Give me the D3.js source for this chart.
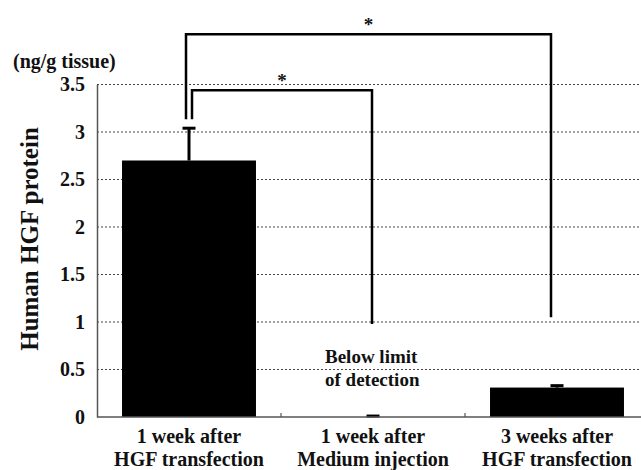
<!DOCTYPE html>
<html>
<head>
<meta charset="utf-8">
<script src="https://cdn.jsdelivr.net/npm/d3@7"></script>
<style>
  html, body { margin: 0; padding: 0; background: #fff; }
  svg text { font-family: "Liberation Serif", "Times New Roman", serif; font-weight: bold; fill: #111; }
</style>
</head>
<body>
<svg id="chart" width="641" height="470"></svg>
<script>
// ---- data ----
const categories = ["1 week after|HGF transfection", "1 week after|Medium injection", "3 weeks after|HGF transfection"];
const values = [2.70, 0.0, 0.31];
const errors = [0.34, 0.01, 0.02];
const yTicks = [0, 0.5, 1, 1.5, 2, 2.5, 3, 3.5];
const yTickLabels = ["0", "0.5", "1", "1.5", "2", "2.5", "3", "3.5"];
const unitLabel = "(ng/g tissue)";
const yTitle = "Human HGF protein";
const noteLines = ["Below limit", "of detection"];
// significance brackets
const brackets = [
  { from: 0, to: 1, top: 3.44, rightEnd: 0.98, label: "*" },
  { from: 0, to: 2, top: 4.03, rightEnd: 1.05, label: "*" }
];

const svg = d3.select("#chart");
const left = 97, right = 649, y0px = 417, yTop = 84.5;

const x = d3.scaleBand().domain(categories).range([left, right]).paddingInner(0.272).paddingOuter(0.136);
const y = d3.scaleLinear().domain([0, 3.5]).range([y0px, yTop]);

// gridlines
svg.append("g").selectAll("line").data(yTicks.filter(d => d > 0)).join("line")
  .attr("x1", left).attr("x2", 641)
  .attr("y1", d => y(d)).attr("y2", d => y(d))
  .attr("stroke", "#444").attr("stroke-width", 1).attr("stroke-dasharray", "2,2");

// y axis
const yAxis = d3.axisLeft(y).tickValues(yTicks).tickSize(0).tickPadding(12)
  .tickFormat((d, i) => yTickLabels[i]);
const gy = svg.append("g").attr("transform", `translate(${left},0)`).call(yAxis);
gy.select(".domain").attr("stroke", "#555").attr("stroke-width", 1.5);
gy.selectAll("text").attr("font-size", 20).attr("font-family", "Liberation Serif").attr("font-weight", "bold").attr("fill", "#111");

// bars
svg.append("g").selectAll("rect").data(categories).join("rect")
  .attr("x", d => x(d)).attr("width", x.bandwidth())
  .attr("y", (d, i) => y(values[i])).attr("height", (d, i) => y0px - y(values[i]))
  .attr("fill", "#000");

// error bars
const eg = svg.append("g").attr("stroke", "#000").attr("stroke-width", 3);
categories.forEach((c, i) => {
  const cx = x(c) + x.bandwidth() / 2;
  eg.append("line").attr("x1", cx).attr("x2", cx).attr("y1", y(values[i])).attr("y2", y(values[i] + errors[i]));
  eg.append("line").attr("x1", cx - 6.5).attr("x2", cx + 6.5).attr("y1", y(values[i] + errors[i])).attr("y2", y(values[i] + errors[i])).attr("stroke-width", 3);
});

// x axis baseline with boundary ticks
const gx = svg.append("g");
gx.append("line").attr("x1", left).attr("x2", 641).attr("y1", y0px).attr("y2", y0px).attr("stroke", "#555").attr("stroke-width", 1.5);
categories.slice(1).forEach(c => {
  const bx = x(c) - x.step() * x.paddingInner() / 2;
  gx.append("line").attr("x1", bx).attr("x2", bx).attr("y1", y0px).attr("y2", y0px - 4).attr("stroke", "#555").attr("stroke-width", 1.2);
});

// x labels
categories.forEach(c => {
  const cx = x(c) + x.bandwidth() / 2;
  const parts = c.split("|");
  const t = svg.append("text").attr("text-anchor", "middle").attr("font-size", 20);
  t.append("tspan").attr("x", cx).attr("y", 443).text(parts[0]);
  t.append("tspan").attr("x", cx).attr("y", 466).text(parts[1]);
});

// unit label
svg.append("text").attr("x", 13).attr("y", 68).attr("font-size", 20).text(unitLabel);

// y title
svg.append("text").attr("transform", `translate(38,239) rotate(-90)`)
  .attr("text-anchor", "middle").attr("font-size", 25).text(yTitle);

// note
const nt = svg.append("text").attr("font-size", 19);
noteLines.forEach((l, i) => nt.append("tspan").attr("x", 325).attr("y", 363 + i * 23).text(l));

// brackets
const bg = svg.append("g").attr("fill", "none").attr("stroke", "#000").attr("stroke-width", 2.5);
brackets.forEach((b, k) => {
  const c1 = x(categories[b.from]) + x.bandwidth() / 2;
  const c2 = x(categories[b.to]) + x.bandwidth() / 2;
  const lx = c1 + (k === 0 ? 3 : -3);
  const rx = c2 - (k === 0 ? 1 : 6);
  const legBottomLeft = y(values[b.from] + errors[b.from]) - 9;
  const path = d3.path();
  path.moveTo(lx, legBottomLeft);
  path.lineTo(lx, y(b.top));
  path.lineTo(rx, y(b.top));
  path.lineTo(rx, y(b.rightEnd));
  bg.append("path").attr("d", path.toString());
  svg.append("text").attr("x", (lx + rx) / 2).attr("y", y(b.top) - 3)
    .attr("text-anchor", "middle").attr("font-size", 19).attr("font-weight", "normal").text(b.label);
});
</script>
</body>
</html>
